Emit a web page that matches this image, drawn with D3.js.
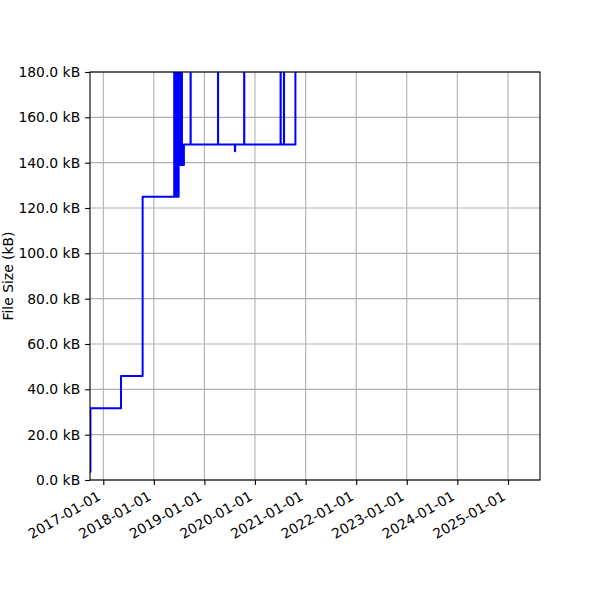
<!DOCTYPE html>
<html><head><meta charset="utf-8">
<script src="https://cdn.jsdelivr.net/npm/d3@7"></script>
<style>body{margin:0;background:#fff}svg{display:block;font-family:"DejaVu Sans",sans-serif}</style>
</head><body>
<svg id="c" width="600" height="600"></svg>
<script>
// ---- data ----
const dates = [
  "2016-09-29","2016-09-30","2017-05-09","2017-10-12",
  "2018-05-28","2018-05-30","2018-06-01","2018-06-03","2018-06-05","2018-06-07",
  "2018-06-09","2018-06-11","2018-06-13","2018-06-15","2018-06-17","2018-06-19",
  "2018-06-21","2018-06-23","2018-06-25","2018-06-27","2018-06-29",
  "2018-07-01","2018-07-03","2018-07-05","2018-07-08","2018-07-11","2018-07-14",
  "2018-07-17","2018-07-20","2018-07-23","2018-08-06",
  "2018-09-23","2018-09-24","2019-04-09","2019-04-10","2019-08-09","2019-08-11",
  "2019-10-15","2019-10-16","2020-07-04","2020-07-05","2020-07-28","2020-07-29",
  "2020-10-19"
];
const sizesKB = [
  3.5, 31.6, 45.9, 125,
  190, 125, 190, 125, 190, 125,
  190, 125, 190, 125, 190, 125,
  190, 125, 190, 125, 190,
  139, 190, 139, 190, 139, 190,
  139, 190, 139, 148,
  200, 148, 200, 148, 145, 148,
  200, 148, 200, 148, 200, 148,
  200
];
const xTickLabels = ["2017-01-01","2018-01-01","2019-01-01","2020-01-01","2021-01-01","2022-01-01","2023-01-01","2024-01-01","2025-01-01"];
const yTicks = [0, 20, 40, 60, 80, 100, 120, 140, 160, 180];
const xDomain = ["2016-09-27", "2025-08-20"];
const yDomain = [0, 180];
const yLabel = "File Size (kB)";

// ---- drawing ----
const L = 90, R = 540, T = 72, B = 480;
const svg = d3.select("#c");
const x = d3.scaleUtc().domain(xDomain.map(d => new Date(d))).range([L, R]);
const y = d3.scaleLinear().domain(yDomain).range([B, T]);
const data = dates.map((d, i) => ({ t: new Date(d), v: sizesKB[i] }));
const grid = "#b0b0b0";
const fs = 13.9;

// grid
svg.append("g").selectAll("line").data(xTickLabels).join("line")
  .attr("x1", d => x(new Date(d))).attr("x2", d => x(new Date(d)))
  .attr("y1", T).attr("y2", B).attr("stroke", grid).attr("stroke-width", 1.1);
svg.append("g").selectAll("line").data(yTicks).join("line")
  .attr("y1", d => y(d)).attr("y2", d => y(d))
  .attr("x1", L).attr("x2", R).attr("stroke", grid).attr("stroke-width", 1.1);

// line
svg.append("clipPath").attr("id", "clip").append("rect")
  .attr("x", L).attr("y", T).attr("width", R - L).attr("height", B - T);
const line = d3.line().x(d => x(d.t)).y(d => y(d.v)).curve(d3.curveStepAfter);
svg.append("path").datum(data).attr("d", line).attr("clip-path", "url(#clip)")
  .attr("fill", "none").attr("stroke", "#0000ff").attr("stroke-width", 2)
  .attr("stroke-linejoin", "round").attr("stroke-linecap", "butt");

// frame
svg.append("rect").attr("x", L).attr("y", T).attr("width", R - L).attr("height", B - T)
  .attr("fill", "none").attr("stroke", "#000").attr("stroke-width", 1.1);

// x axis
const xAxis = d3.axisBottom(x).tickValues(xTickLabels.map(d => new Date(d)))
  .tickSize(4.9).tickPadding(0).tickFormat(() => "");
const gx = svg.append("g").attr("transform", `translate(0,${B})`).call(xAxis);
gx.select(".domain").remove();
gx.selectAll(".tick line").attr("stroke", "#000").attr("stroke-width", 1.1);
svg.append("g").selectAll("text").data(xTickLabels).join("text")
  .attr("transform", d => `translate(${x(new Date(d)) - 1.6},499) rotate(-30)`)
  .attr("text-anchor", "end").attr("font-size", fs).attr("fill", "#000")
  .text(d => d);

// y axis
const yAxis = d3.axisLeft(y).tickValues(yTicks).tickSize(4.9).tickPadding(4.9)
  .tickFormat(d => d.toFixed(1) + " kB");
const gy = svg.append("g").attr("transform", `translate(${L},0)`).call(yAxis);
gy.select(".domain").remove();
gy.selectAll(".tick line").attr("stroke", "#000").attr("stroke-width", 1.1);
gy.selectAll(".tick text").attr("font-size", fs).attr("font-family", "DejaVu Sans").attr("fill", "#000");

svg.append("text").attr("transform", `translate(12.5,${(T + B) / 2}) rotate(-90)`)
  .attr("text-anchor", "middle").attr("font-size", fs).text(yLabel);
</script>
</body></html>
